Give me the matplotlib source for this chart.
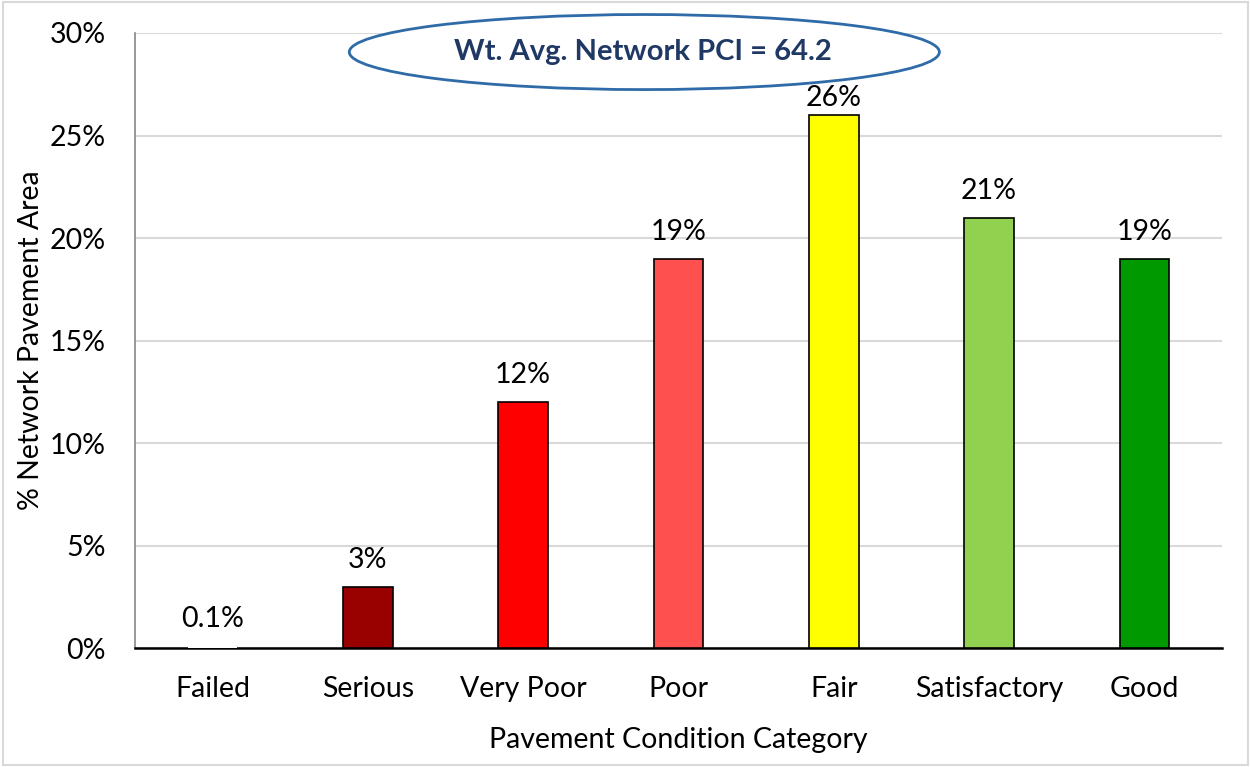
import matplotlib.pyplot as plt
from matplotlib.patches import Ellipse, Rectangle
from matplotlib.ticker import PercentFormatter

plt.rcParams['font.family'] = ['Lato', 'DejaVu Sans']

categories = ["Failed", "Serious", "Very Poor", "Poor", "Fair", "Satisfactory", "Good"]
values = [0.1, 3, 12, 19, 26, 21, 19]
labels = ["0.1%", "3%", "12%", "19%", "26%", "21%", "19%"]
colors = ["#FFFFFF", "#990000", "#FF0000", "#FF5050", "#FFFF00", "#92D050", "#009900"]
edges = ["none", "black", "black", "black", "black", "black", "black"]
pci_text = "Wt. Avg. Network PCI = 64.2"

fig = plt.figure(figsize=(12.5, 7.67), dpi=100)
ax = fig.add_axes([0.108, 0.155, 0.8696, 0.802])

x = range(len(categories))
ax.bar(x, values, width=0.32, color=colors, edgecolor=edges, linewidth=1.2, zorder=3)

for i, (v, lab) in enumerate(zip(values, labels)):
    # the tallest label sits closer to its bar so it clears the ellipse
    off = 3 if v == max(values) else 10
    ax.annotate(lab, (i, v), xytext=(0, off), textcoords="offset points",
                ha="center", va="bottom", fontsize=20.5)

ax.set_xlim(-0.5, 6.5)
ax.set_ylim(0, 30)
ax.set_yticks(range(0, 31, 5))
ax.yaxis.set_major_formatter(PercentFormatter(decimals=0))
ax.set_xticks(list(x))
ax.set_xticklabels(categories)
ax.tick_params(axis="both", length=0, labelsize=20.5)
ax.tick_params(axis="x", pad=20)
ax.tick_params(axis="y", pad=21)
ax.grid(axis="y", color="#D9D9D9", linewidth=1.5, zorder=0)
ax.set_axisbelow(True)

for s in ["top", "right"]:
    ax.spines[s].set_visible(False)
ax.spines["left"].set_color("#868686")
ax.spines["left"].set_linewidth(1.2)
ax.spines["bottom"].set_color("black")
ax.spines["bottom"].set_linewidth(1.8)

ax.set_xlabel("Pavement Condition Category", fontsize=20.5, labelpad=18)
ax.set_ylabel("% Network Pavement Area", fontsize=20.5, labelpad=4)

ell = Ellipse((2.78, 29.07), 3.8, 3.66, facecolor="white", edgecolor="#2E6BA8",
              linewidth=2, clip_on=False, zorder=5)
ax.add_patch(ell)
ax.text(2.77, 29.07, pci_text, ha="center", va="center", fontsize=21,
        fontweight="bold", color="#1F3864", zorder=6)

fig.patches.append(Rectangle((0.002, 0.002), 0.996, 0.996, transform=fig.transFigure,
                             fill=False, edgecolor="#D9D9D9", linewidth=1.5))

fig.savefig("out.png", dpi=100)
